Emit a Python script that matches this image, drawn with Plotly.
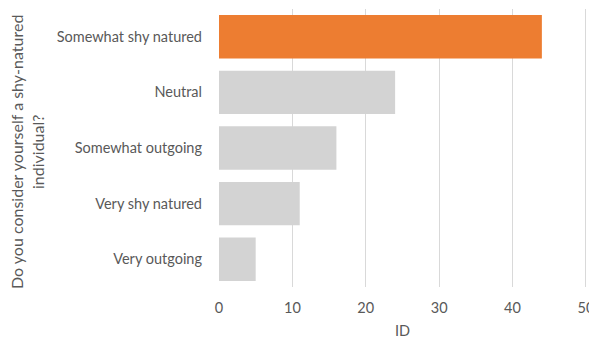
import plotly.graph_objects as go

categories = ["Very outgoing", "Very shy natured", "Somewhat outgoing", "Neutral", "Somewhat shy natured"]
values = [5, 11, 16, 24, 44]
colors = ["#D3D3D3", "#D3D3D3", "#D3D3D3", "#D3D3D3", "#ED7D31"]
x_ticks = [0, 10, 20, 30, 40, 50]

W, H = 589, 338
ml, mr, mt, mb = 219, 2, 9, 51
pw, ph = W - ml - mr, H - mt - mb

fig = go.Figure(go.Bar(
    x=values, y=categories, orientation="h",
    marker=dict(color=colors, line=dict(width=0)),
    width=0.78,
))

font = dict(family="Lato, Open Sans, sans-serif", size=14.5, color="#595959")

fig.update_layout(
    width=W, height=H,
    margin=dict(l=ml, r=mr, t=mt, b=mb, autoexpand=False),
    paper_bgcolor="white", plot_bgcolor="white",
    font=font,
    showlegend=False,
    xaxis=dict(
        range=[0, 50.15], tickvals=x_ticks, showgrid=True, gridcolor="#D9D9D9",
        gridwidth=1, zeroline=False, showline=False, automargin=False,
        ticklabelstandoff=10, ticklabeloverflow="allow",
    ),
    yaxis=dict(
        categoryorder="array", categoryarray=categories,
        showgrid=False, showline=False, zeroline=False, automargin=False,
        ticklabelstandoff=16,
    ),
    annotations=[
        dict(
            text="Do you consider yourself a shy-natured<br>individual?",
            textangle=-90, xref="paper", yref="paper",
            x=(27 - ml) / pw, y=(H - mb - 152) / ph,
            xanchor="center", yanchor="middle", showarrow=False,
            font=dict(family="Lato, Open Sans, sans-serif", size=16, color="#595959"),
        ),
        dict(
            text="ID", xref="x", yref="paper", x=25, y=(H - mb - 330) / ph,
            xanchor="center", yanchor="middle", showarrow=False, font=font,
        ),
    ],
)

fig.write_html("out.html")
